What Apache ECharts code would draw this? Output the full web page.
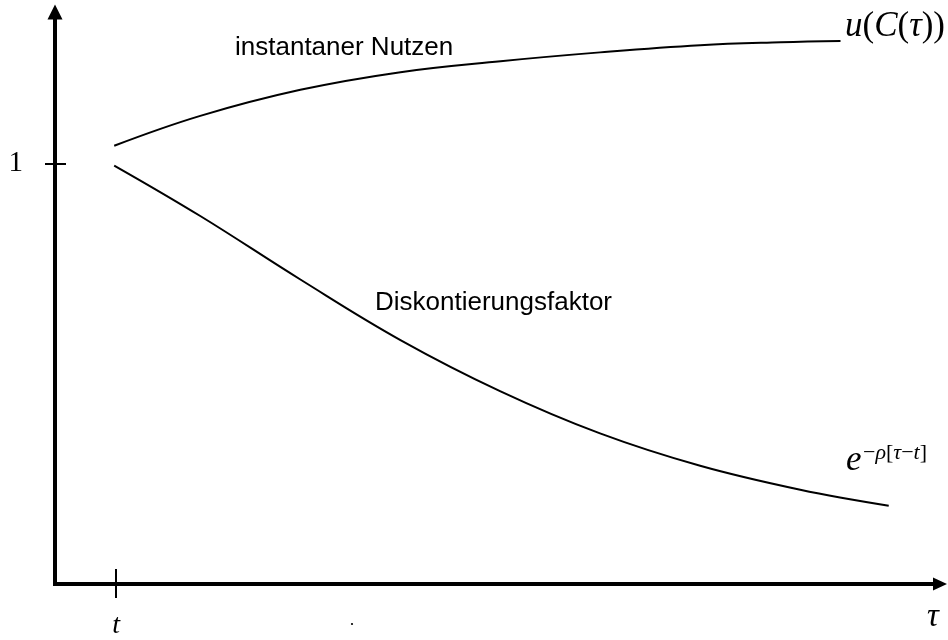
<!DOCTYPE html>
<html>
<head>
<meta charset="utf-8">
<script src="https://cdn.jsdelivr.net/npm/echarts@6/dist/echarts.min.js"></script>
<style>
  html, body { margin: 0; padding: 0; background: #fff; }
  #chart { width: 948px; height: 640px; }
</style>
</head>
<body>
<div id="chart"></div>
<script>
// Time axis (τ) and value axis ranges
const tauMax = 14.5;
const valueMax = 1.36;

// Instantaneous utility u(C(τ))
const utilityTau    = [0.97, 2.38, 4.02, 5.66, 7.30, 8.93, 10.57, 11.89, 12.87];
const utilityValues = [1.042, 1.113, 1.175, 1.217, 1.243, 1.264, 1.281, 1.288, 1.291];

// Discount factor e^{-ρ[τ-t]}
const discountTau    = [0.97, 2.38, 4.02, 5.66, 7.30, 8.93, 10.57, 12.21, 13.66];
const discountValues = [0.995, 0.875, 0.724, 0.580, 0.458, 0.358, 0.281, 0.224, 0.186];

// Tick marks and their labels
const xTickValues = [1];
const xTickLabels = ['t'];
const yTickValues = [1];
const yTickLabels = ['1'];

const pairs = (xs, ys) => xs.map((x, i) => [x, ys[i]]);
const SERIF = 'Liberation Serif';
const SANS = 'Liberation Sans';

const chart = echarts.init(document.getElementById('chart'), null, { renderer: 'canvas' });

const axisBase = {
  type: 'value',
  splitLine: { show: false },
};

chart.setOption({
  animation: false,
  backgroundColor: '#fff',
  grid: { left: 55, right: 8, top: 12, bottom: 51 },
  xAxis: [
    Object.assign({}, axisBase, {
      min: 0, max: tauMax, position: 'bottom',
      axisLine: {
        show: true, onZero: false,
        symbol: ['none', 'triangle'], symbolSize: [13, 14],
        lineStyle: { color: '#000', width: 4, cap: 'square' }
      },
      axisTick: {
        show: true, customValues: xTickValues, inside: false, length: 14,
        lineStyle: { color: '#000', width: 2 }
      },
      axisLabel: {
        show: true, customValues: xTickValues, margin: 28,
        formatter: v => xTickLabels[xTickValues.indexOf(v)] || '',
        fontFamily: SERIF, fontStyle: 'italic', fontSize: 28, color: '#000'
      }
    }),
    Object.assign({}, axisBase, {
      min: 0, max: tauMax, position: 'bottom',
      axisLine: { show: false, onZero: false },
      axisTick: {
        show: true, customValues: xTickValues, inside: true, length: 15,
        lineStyle: { color: '#000', width: 2 }
      },
      axisLabel: { show: false }
    })
  ],
  yAxis: [
    Object.assign({}, axisBase, {
      min: 0, max: valueMax, position: 'left',
      axisLine: {
        show: true, onZero: false,
        symbol: ['none', 'triangle'], symbolSize: [15, 15],
        lineStyle: { color: '#000', width: 4, cap: 'square' }
      },
      axisTick: {
        show: true, customValues: yTickValues, inside: false, length: 10,
        lineStyle: { color: '#000', width: 2 }
      },
      axisLabel: {
        show: true, customValues: yTickValues, margin: 32,
        formatter: v => yTickLabels[yTickValues.indexOf(v)] || '',
        fontFamily: SERIF, fontSize: 29, color: '#000'
      }
    }),
    Object.assign({}, axisBase, {
      min: 0, max: valueMax, position: 'left',
      axisLine: { show: false, onZero: false },
      axisTick: {
        show: true, customValues: yTickValues, inside: true, length: 11,
        lineStyle: { color: '#000', width: 2 }
      },
      axisLabel: { show: false }
    })
  ],
  series: [
    {
      name: 'u(C(τ))',
      type: 'line',
      xAxisIndex: 0, yAxisIndex: 0,
      data: pairs(utilityTau, utilityValues),
      smooth: 0.4,
      showSymbol: false,
      lineStyle: { color: '#000', width: 2 }
    },
    {
      name: 'Diskontierungsfaktor',
      type: 'line',
      xAxisIndex: 0, yAxisIndex: 0,
      data: pairs(discountTau, discountValues),
      smooth: 0.4,
      showSymbol: false,
      lineStyle: { color: '#000', width: 2 }
    }
  ],
  graphic: [
    {
      type: 'text', x: 235, y: 48,
      style: { text: 'instantaner Nutzen', fontFamily: SANS, fontSize: 26, fill: '#000', align: 'left', verticalAlign: 'middle' }
    },
    {
      type: 'text', x: 375, y: 303,
      style: { text: 'Diskontierungsfaktor', fontFamily: SANS, fontSize: 26, fill: '#000', align: 'left', verticalAlign: 'middle' }
    },
    {
      type: 'text', x: 845, y: 27,
      style: {
        text: '{i|u}{r|(}{i|C}{r|(}{i|τ}{r|))}',
        align: 'left', verticalAlign: 'middle', fill: '#000',
        rich: {
          i: { fontFamily: SERIF, fontStyle: 'italic', fontSize: 35, fill: '#000' },
          r: { fontFamily: SERIF, fontSize: 35, fill: '#000' }
        }
      }
    },
    {
      type: 'text', x: 846, y: 461,
      style: { text: 'e', fontFamily: SERIF, fontStyle: 'italic', fontSize: 35, fill: '#000', align: 'left', verticalAlign: 'middle' }
    },
    {
      type: 'text', x: 863, y: 453,
      style: {
        text: '{r|−}{i|ρ}{r|[}{i|τ}{r|−}{i|t}{r|]}',
        align: 'left', verticalAlign: 'middle', fill: '#000',
        rich: {
          i: { fontFamily: SERIF, fontStyle: 'italic', fontSize: 22, fill: '#000' },
          r: { fontFamily: SERIF, fontSize: 22, fill: '#000' }
        }
      }
    },
    {
      type: 'text', x: 933, y: 617,
      style: { text: 'τ', fontFamily: SERIF, fontStyle: 'italic', fontSize: 33, fill: '#000', align: 'center', verticalAlign: 'middle' }
    },
    {
      type: 'circle', shape: { cx: 352, cy: 624, r: 1.1 }, style: { fill: '#000' }
    }
  ]
});
</script>
</body>
</html>
